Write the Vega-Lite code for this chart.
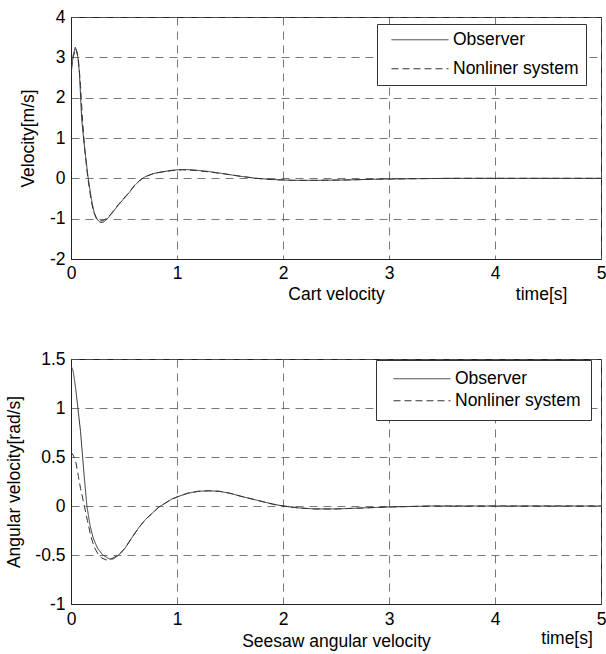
{
  "$schema": "https://vega.github.io/schema/vega-lite/v6.json",
  "padding": {"left": 4, "top": 7, "right": 0, "bottom": 0},
  "spacing": 100,
  "bounds": "flush",
  "background": "white",
  "datasets": {
    "cart": [
      {"t": 0, "v": 2.55, "series": "Observer"},
      {"t": 0.02, "v": 3.05, "series": "Observer"},
      {"t": 0.04, "v": 3.25, "series": "Observer"},
      {"t": 0.06, "v": 3.12, "series": "Observer"},
      {"t": 0.08, "v": 2.6, "series": "Observer"},
      {"t": 0.1, "v": 1.5, "series": "Observer"},
      {"t": 0.12, "v": 0.95, "series": "Observer"},
      {"t": 0.14, "v": 0.5, "series": "Observer"},
      {"t": 0.16, "v": 0.05, "series": "Observer"},
      {"t": 0.18, "v": -0.3, "series": "Observer"},
      {"t": 0.2, "v": -0.62, "series": "Observer"},
      {"t": 0.22, "v": -0.87, "series": "Observer"},
      {"t": 0.25, "v": -1.03, "series": "Observer"},
      {"t": 0.28, "v": -1.1, "series": "Observer"},
      {"t": 0.31, "v": -1.08, "series": "Observer"},
      {"t": 0.35, "v": -0.98, "series": "Observer"},
      {"t": 0.4, "v": -0.82, "series": "Observer"},
      {"t": 0.45, "v": -0.65, "series": "Observer"},
      {"t": 0.5, "v": -0.5, "series": "Observer"},
      {"t": 0.55, "v": -0.35, "series": "Observer"},
      {"t": 0.6, "v": -0.18, "series": "Observer"},
      {"t": 0.65, "v": -0.05, "series": "Observer"},
      {"t": 0.7, "v": 0.04, "series": "Observer"},
      {"t": 0.78, "v": 0.12, "series": "Observer"},
      {"t": 0.86, "v": 0.16, "series": "Observer"},
      {"t": 0.95, "v": 0.2, "series": "Observer"},
      {"t": 1.05, "v": 0.22, "series": "Observer"},
      {"t": 1.15, "v": 0.21, "series": "Observer"},
      {"t": 1.3, "v": 0.17, "series": "Observer"},
      {"t": 1.45, "v": 0.11, "series": "Observer"},
      {"t": 1.6, "v": 0.05, "series": "Observer"},
      {"t": 1.75, "v": 0.0, "series": "Observer"},
      {"t": 1.9, "v": -0.03, "series": "Observer"},
      {"t": 2.1, "v": -0.05, "series": "Observer"},
      {"t": 2.3, "v": -0.05, "series": "Observer"},
      {"t": 2.6, "v": -0.04, "series": "Observer"},
      {"t": 2.9, "v": -0.02, "series": "Observer"},
      {"t": 3.2, "v": -0.01, "series": "Observer"},
      {"t": 3.6, "v": 0.0, "series": "Observer"},
      {"t": 4.2, "v": 0.0, "series": "Observer"},
      {"t": 5, "v": 0.0, "series": "Observer"},
      {"t": 0, "v": 2.7, "series": "Nonliner system"},
      {"t": 0.02, "v": 3.0, "series": "Nonliner system"},
      {"t": 0.045, "v": 3.22, "series": "Nonliner system"},
      {"t": 0.07, "v": 2.95, "series": "Nonliner system"},
      {"t": 0.09, "v": 2.3, "series": "Nonliner system"},
      {"t": 0.11, "v": 1.4, "series": "Nonliner system"},
      {"t": 0.13, "v": 0.7, "series": "Nonliner system"},
      {"t": 0.15, "v": 0.2, "series": "Nonliner system"},
      {"t": 0.17, "v": -0.2, "series": "Nonliner system"},
      {"t": 0.19, "v": -0.55, "series": "Nonliner system"},
      {"t": 0.21, "v": -0.8, "series": "Nonliner system"},
      {"t": 0.24, "v": -1.0, "series": "Nonliner system"},
      {"t": 0.27, "v": -1.06, "series": "Nonliner system"},
      {"t": 0.3, "v": -1.05, "series": "Nonliner system"},
      {"t": 0.35, "v": -0.97, "series": "Nonliner system"},
      {"t": 0.4, "v": -0.81, "series": "Nonliner system"},
      {"t": 0.45, "v": -0.64, "series": "Nonliner system"},
      {"t": 0.5, "v": -0.49, "series": "Nonliner system"},
      {"t": 0.55, "v": -0.34, "series": "Nonliner system"},
      {"t": 0.6, "v": -0.17, "series": "Nonliner system"},
      {"t": 0.65, "v": -0.05, "series": "Nonliner system"},
      {"t": 0.7, "v": 0.04, "series": "Nonliner system"},
      {"t": 0.78, "v": 0.12, "series": "Nonliner system"},
      {"t": 0.86, "v": 0.16, "series": "Nonliner system"},
      {"t": 0.95, "v": 0.19, "series": "Nonliner system"},
      {"t": 1.05, "v": 0.21, "series": "Nonliner system"},
      {"t": 1.15, "v": 0.2, "series": "Nonliner system"},
      {"t": 1.3, "v": 0.16, "series": "Nonliner system"},
      {"t": 1.45, "v": 0.11, "series": "Nonliner system"},
      {"t": 1.6, "v": 0.05, "series": "Nonliner system"},
      {"t": 1.75, "v": 0.0, "series": "Nonliner system"},
      {"t": 1.9, "v": -0.03, "series": "Nonliner system"},
      {"t": 2.1, "v": -0.05, "series": "Nonliner system"},
      {"t": 2.3, "v": -0.05, "series": "Nonliner system"},
      {"t": 2.6, "v": -0.04, "series": "Nonliner system"},
      {"t": 2.9, "v": -0.02, "series": "Nonliner system"},
      {"t": 3.2, "v": -0.01, "series": "Nonliner system"},
      {"t": 3.6, "v": 0.0, "series": "Nonliner system"},
      {"t": 4.2, "v": 0.0, "series": "Nonliner system"},
      {"t": 5, "v": 0.0, "series": "Nonliner system"}
    ],
    "seesaw": [
      {"t": 0, "v": 1.43, "series": "Observer"},
      {"t": 0.02, "v": 1.38, "series": "Observer"},
      {"t": 0.044, "v": 1.2, "series": "Observer"},
      {"t": 0.07, "v": 0.95, "series": "Observer"},
      {"t": 0.09, "v": 0.76, "series": "Observer"},
      {"t": 0.12, "v": 0.36, "series": "Observer"},
      {"t": 0.15, "v": 0.0, "series": "Observer"},
      {"t": 0.18, "v": -0.2, "series": "Observer"},
      {"t": 0.21, "v": -0.33, "series": "Observer"},
      {"t": 0.25, "v": -0.43, "series": "Observer"},
      {"t": 0.3, "v": -0.5, "series": "Observer"},
      {"t": 0.36, "v": -0.54, "series": "Observer"},
      {"t": 0.4, "v": -0.54, "series": "Observer"},
      {"t": 0.45, "v": -0.5, "series": "Observer"},
      {"t": 0.51, "v": -0.43, "series": "Observer"},
      {"t": 0.57, "v": -0.33, "series": "Observer"},
      {"t": 0.64, "v": -0.22, "series": "Observer"},
      {"t": 0.7, "v": -0.14, "series": "Observer"},
      {"t": 0.77, "v": -0.07, "series": "Observer"},
      {"t": 0.83, "v": -0.01, "series": "Observer"},
      {"t": 0.89, "v": 0.03, "series": "Observer"},
      {"t": 0.95, "v": 0.07, "series": "Observer"},
      {"t": 1.02, "v": 0.1, "series": "Observer"},
      {"t": 1.1, "v": 0.13, "series": "Observer"},
      {"t": 1.2, "v": 0.15, "series": "Observer"},
      {"t": 1.3, "v": 0.155, "series": "Observer"},
      {"t": 1.4, "v": 0.15, "series": "Observer"},
      {"t": 1.5, "v": 0.13, "series": "Observer"},
      {"t": 1.6, "v": 0.1, "series": "Observer"},
      {"t": 1.75, "v": 0.06, "series": "Observer"},
      {"t": 1.9, "v": 0.02, "series": "Observer"},
      {"t": 2.0, "v": 0.0, "series": "Observer"},
      {"t": 2.15, "v": -0.02, "series": "Observer"},
      {"t": 2.3, "v": -0.03, "series": "Observer"},
      {"t": 2.5, "v": -0.03, "series": "Observer"},
      {"t": 2.75, "v": -0.02, "series": "Observer"},
      {"t": 3.0, "v": -0.01, "series": "Observer"},
      {"t": 3.4, "v": 0.0, "series": "Observer"},
      {"t": 4.0, "v": 0.0, "series": "Observer"},
      {"t": 5, "v": 0.0, "series": "Observer"},
      {"t": 0, "v": 0.55, "series": "Nonliner system"},
      {"t": 0.02, "v": 0.52, "series": "Nonliner system"},
      {"t": 0.044, "v": 0.46, "series": "Nonliner system"},
      {"t": 0.07, "v": 0.3, "series": "Nonliner system"},
      {"t": 0.09, "v": 0.18, "series": "Nonliner system"},
      {"t": 0.11, "v": 0.08, "series": "Nonliner system"},
      {"t": 0.13, "v": -0.02, "series": "Nonliner system"},
      {"t": 0.155, "v": -0.15, "series": "Nonliner system"},
      {"t": 0.19, "v": -0.32, "series": "Nonliner system"},
      {"t": 0.22, "v": -0.42, "series": "Nonliner system"},
      {"t": 0.26, "v": -0.5, "series": "Nonliner system"},
      {"t": 0.29, "v": -0.53, "series": "Nonliner system"},
      {"t": 0.33, "v": -0.55, "series": "Nonliner system"},
      {"t": 0.37, "v": -0.545, "series": "Nonliner system"},
      {"t": 0.45, "v": -0.5, "series": "Nonliner system"},
      {"t": 0.51, "v": -0.43, "series": "Nonliner system"},
      {"t": 0.57, "v": -0.33, "series": "Nonliner system"},
      {"t": 0.64, "v": -0.22, "series": "Nonliner system"},
      {"t": 0.7, "v": -0.14, "series": "Nonliner system"},
      {"t": 0.77, "v": -0.07, "series": "Nonliner system"},
      {"t": 0.83, "v": -0.01, "series": "Nonliner system"},
      {"t": 0.89, "v": 0.03, "series": "Nonliner system"},
      {"t": 0.95, "v": 0.07, "series": "Nonliner system"},
      {"t": 1.02, "v": 0.1, "series": "Nonliner system"},
      {"t": 1.1, "v": 0.13, "series": "Nonliner system"},
      {"t": 1.2, "v": 0.15, "series": "Nonliner system"},
      {"t": 1.3, "v": 0.155, "series": "Nonliner system"},
      {"t": 1.4, "v": 0.15, "series": "Nonliner system"},
      {"t": 1.5, "v": 0.13, "series": "Nonliner system"},
      {"t": 1.6, "v": 0.1, "series": "Nonliner system"},
      {"t": 1.75, "v": 0.06, "series": "Nonliner system"},
      {"t": 1.9, "v": 0.02, "series": "Nonliner system"},
      {"t": 2.0, "v": 0.0, "series": "Nonliner system"},
      {"t": 2.15, "v": -0.02, "series": "Nonliner system"},
      {"t": 2.3, "v": -0.03, "series": "Nonliner system"},
      {"t": 2.5, "v": -0.03, "series": "Nonliner system"},
      {"t": 2.75, "v": -0.02, "series": "Nonliner system"},
      {"t": 3.0, "v": -0.01, "series": "Nonliner system"},
      {"t": 3.4, "v": 0.0, "series": "Nonliner system"},
      {"t": 4.0, "v": 0.0, "series": "Nonliner system"},
      {"t": 5, "v": 0.0, "series": "Nonliner system"}
    ],
    "label1": [{"t": 4.44, "v": -2.89, "text": "time[s]"}],
    "label2": [{"t": 4.68, "v": -1.362, "text": "time[s]"}]
  },
  "resolve": {"scale": {"strokeDash": "independent", "x": "independent", "y": "independent"}, "legend": {"strokeDash": "independent"}},
  "vconcat": [
    {
      "width": 530,
      "height": 242,
      "layer": [
        {
          "data": {"name": "cart"},
          "mark": {"type": "line", "strokeWidth": 1, "color": "#333", "clip": true},
          "encoding": {
            "x": {"field": "t", "type": "quantitative", "scale": {"domain": [0, 5], "nice": false},
                  "axis": {"title": "Cart velocity", "values": [0, 1, 2, 3, 4, 5], "labelPadding": 5}},
            "y": {"field": "v", "type": "quantitative", "scale": {"domain": [-2, 4], "nice": false, "zero": false},
                  "axis": {"title": "Velocity[m/s]", "values": [-2, -1, 0, 1, 2, 3, 4], "titleX": -34}},
            "strokeDash": {"field": "series", "type": "nominal",
                           "scale": {"domain": ["Observer", "Nonliner system"], "range": [[1, 0], [7, 4]]},
                           "legend": {"title": null, "orient": "none", "legendX": 306, "legendY": 7,
                                      "padding": 7, "rowPadding": 10, "symbolOffset": 7, "symbolSize": 3249,
                                      "symbolType": "stroke", "symbolStrokeWidth": 1, "symbolStrokeColor": "#333",
                                      "labelFontSize": 17.5, "labelFont": "Liberation Sans", "labelColor": "#000",
                                      "labelOffset": 4, "strokeColor": "#333", "fillColor": "white", "clipHeight": 17.5}}
          }
        },
        {
          "data": {"name": "label1"},
          "mark": {"type": "text", "font": "Liberation Sans", "fontSize": 17.5, "color": "#000", "baseline": "middle", "align": "center"},
          "encoding": {
            "x": {"field": "t", "type": "quantitative"},
            "y": {"field": "v", "type": "quantitative"},
            "text": {"field": "text"}
          }
        }
      ]
    },
    {
      "width": 530,
      "height": 245,
      "layer": [
        {
          "data": {"name": "seesaw"},
          "mark": {"type": "line", "strokeWidth": 1, "color": "#333", "clip": true},
          "encoding": {
            "x": {"field": "t", "type": "quantitative", "scale": {"domain": [0, 5], "nice": false},
                  "axis": {"title": "Seesaw angular velocity", "values": [0, 1, 2, 3, 4, 5], "labelPadding": 6, "titlePadding": 5}},
            "y": {"field": "v", "type": "quantitative", "scale": {"domain": [-1, 1.5], "nice": false, "zero": false},
                  "axis": {"title": "Angular velocity[rad/s]", "values": [-1, -0.5, 0, 0.5, 1, 1.5], "titleX": -48}},
            "strokeDash": {"field": "series", "type": "nominal",
                           "scale": {"domain": ["Observer", "Nonliner system"], "range": [[1, 0], [7, 4]]},
                           "legend": {"title": null, "orient": "none", "legendX": 305, "legendY": 1,
                                      "padding": 10, "rowPadding": 3, "symbolOffset": 7, "symbolSize": 3249,
                                      "symbolType": "stroke", "symbolStrokeWidth": 1, "symbolStrokeColor": "#333",
                                      "labelFontSize": 17.5, "labelFont": "Liberation Sans", "labelColor": "#000",
                                      "labelOffset": 4, "strokeColor": "#333", "fillColor": "white", "clipHeight": 17.5}}
          }
        },
        {
          "data": {"name": "label2"},
          "mark": {"type": "text", "font": "Liberation Sans", "fontSize": 17.5, "color": "#000", "baseline": "middle", "align": "center"},
          "encoding": {
            "x": {"field": "t", "type": "quantitative"},
            "y": {"field": "v", "type": "quantitative"},
            "text": {"field": "text"}
          }
        }
      ]
    }
  ],
  "config": {
    "view": {"stroke": "#222", "strokeWidth": 1},
    "axis": {
      "labelFont": "Liberation Sans", "labelFontSize": 17.5, "labelColor": "#000", "labelFlush": false,
      "labelExpr": "datum.value < 0 ? '-' + format(-datum.value, '~g') : format(datum.value, '~g')",
      "titleFont": "Liberation Sans", "titleFontSize": 17.5, "titleFontWeight": "normal", "titleColor": "#000",
      "domainColor": "#222", "ticks": false, "grid": true, "gridColor": "#555", "gridDash": [8, 6], "gridWidth": 0.8,
      "labelPadding": 6
    }
  }
}
